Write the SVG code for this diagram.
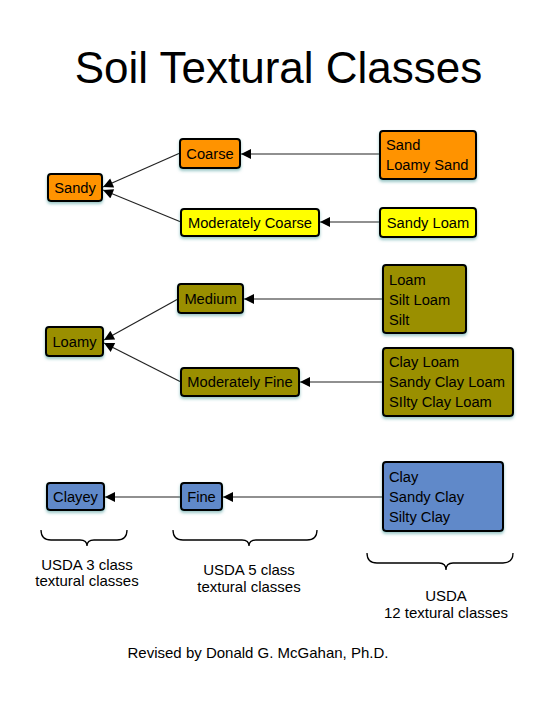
<svg xmlns="http://www.w3.org/2000/svg" width="540" height="720" viewBox="0 0 540 720">
<style>
text{font-family:"Liberation Sans",Arial,sans-serif;fill:#000}
.n{font-size:14.7px}
.c{text-anchor:middle}
.box{stroke:#000;stroke-width:2;filter:url(#sh)}
.or{fill:#FF9300}.ye{fill:#FFFF00}.ol{fill:#9A8F00}.bl{fill:#6189C9}
.cn line{stroke:#222;stroke-width:1.2;marker-end:url(#ah)}
.br{fill:none;stroke:#000;stroke-width:1.3}
.lb{font-size:15px;text-anchor:middle}
</style>
<defs>
<filter id="sh" x="-20%" y="-20%" width="140%" height="160%">
<feDropShadow dx="0" dy="2" stdDeviation="1.6" flood-color="#4a9a9a" flood-opacity="0.55"/>
</filter>
<marker id="ah" viewBox="0 0 10 10" refX="10" refY="5" markerWidth="12" markerHeight="10" markerUnits="userSpaceOnUse" orient="auto">
<path d="M0,0 L10,5 L0,10 Z" fill="#000"/>
</marker>
</defs>
<rect width="540" height="720" fill="#fff"/>
<text x="278.5" y="83" font-size="44" text-anchor="middle">Soil Textural Classes</text>

<g id="connectors" class="cn">
<line x1="180" y1="153" x2="103" y2="187"/>
<line x1="181" y1="222" x2="103" y2="190"/>
<line x1="380" y1="154" x2="241" y2="154"/>
<line x1="380" y1="222" x2="320" y2="222"/>
<line x1="178" y1="299" x2="104" y2="340"/>
<line x1="181" y1="382" x2="104" y2="343"/>
<line x1="383" y1="299" x2="244" y2="299"/>
<line x1="383" y1="382" x2="300" y2="382"/>
<line x1="383" y1="497" x2="223" y2="497"/>
<line x1="181" y1="497" x2="105" y2="497"/>
</g>

<g id="sandy"><rect class="box or" x="48" y="174" width="54" height="27" rx="3"/><text class="n c" x="75" y="192.5">Sandy</text></g>
<g id="coarse"><rect class="box or" x="180" y="139" width="60" height="29" rx="3"/><text class="n c" x="210" y="158.5">Coarse</text></g>
<g id="modcoarse"><rect class="box ye" x="181" y="209" width="138" height="27" rx="3"/><text class="n c" x="250" y="227.5">Moderately Coarse</text></g>
<g id="sand"><rect class="box or" x="380" y="131" width="96" height="48" rx="3"/><text class="n" x="386" y="149.5">Sand</text><text class="n" x="386" y="169.5">Loamy Sand</text></g>
<g id="sandyloam"><rect class="box ye" x="380" y="208" width="96" height="29" rx="3"/><text class="n c" x="428" y="227.5">Sandy Loam</text></g>

<g id="loamy"><rect class="box ol" x="46" y="327" width="57" height="29" rx="3"/><text class="n c" x="74.5" y="346.5">Loamy</text></g>
<g id="medium"><rect class="box ol" x="178" y="284" width="65" height="29" rx="3"/><text class="n c" x="210.5" y="303.5">Medium</text></g>
<g id="modfine"><rect class="box ol" x="181" y="368" width="118" height="28" rx="3"/><text class="n c" x="240" y="387">Moderately Fine</text></g>
<g id="loam"><rect class="box ol" x="383" y="265" width="83" height="68" rx="3"/><text class="n" x="389" y="285">Loam</text><text class="n" x="389" y="305">Silt Loam</text><text class="n" x="389" y="325">Silt</text></g>
<g id="clayloam"><rect class="box ol" x="383" y="348" width="130" height="68" rx="3"/><text class="n" x="389" y="367">Clay Loam</text><text class="n" x="389" y="387">Sandy Clay Loam</text><text class="n" x="389" y="407">SIlty Clay Loam</text></g>

<g id="clayey"><rect class="box bl" x="47" y="483" width="57" height="27" rx="3"/><text class="n c" x="75.5" y="501.5">Clayey</text></g>
<g id="fine"><rect class="box bl" x="181" y="483" width="41" height="27" rx="3"/><text class="n c" x="201.5" y="501.5">Fine</text></g>
<g id="clay"><rect class="box bl" x="383" y="462" width="120" height="69" rx="3"/><text class="n" x="389" y="482">Clay</text><text class="n" x="389" y="502">Sandy Clay</text><text class="n" x="389" y="522">Silty Clay</text></g>

<g id="braces">
<path class="br" d="M41,530 Q41,540 51,540 L80,540 Q87,540 87,546 Q87,540 94,540 L117,540 Q127,540 127,530"/>
<path class="br" d="M173,530 Q173,540 183,540 L242,540 Q249,540 249,546 Q249,540 256,540 L307,540 Q317,540 317,530"/>
<path class="br" d="M367,553 Q367,563 377,563 L439,563 Q446,563 446,570 Q446,563 453,563 L503,563 Q513,563 513,553"/>
</g>
<text class="lb" x="87" y="570">USDA 3 class</text>
<text class="lb" x="87" y="586">textural classes</text>
<text class="lb" x="249" y="575">USDA 5 class</text>
<text class="lb" x="249" y="592">textural classes</text>
<text class="lb" x="446" y="601">USDA</text>
<text class="lb" x="446" y="618">12 textural classes</text>
<text x="258" y="658" font-size="15" text-anchor="middle">Revised by Donald G. McGahan, Ph.D.</text>
</svg>
